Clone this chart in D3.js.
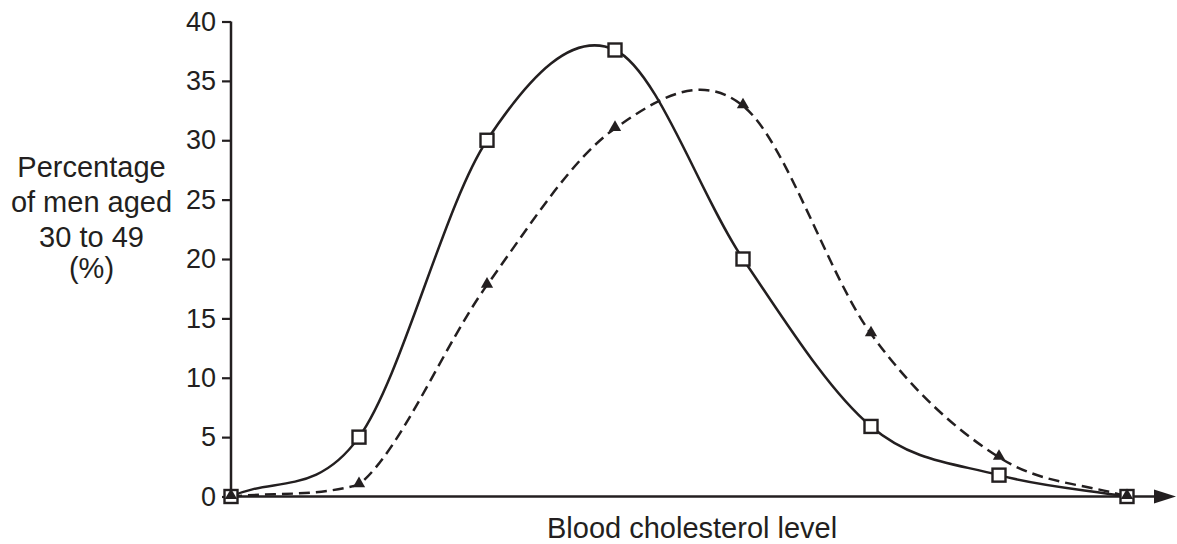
<!DOCTYPE html>
<html>
<head>
<meta charset="utf-8">
<script src="https://cdn.jsdelivr.net/npm/d3@7/dist/d3.min.js"></script>
<style>
  html, body { margin: 0; padding: 0; background: #fff; }
  svg { display: block; }
  text { font-family: "Liberation Sans", Arial, Helvetica, sans-serif; fill: #231f20; }
</style>
</head>
<body>
<svg id="chart" width="1177" height="544"></svg>
<script>
// ---- data ----
const categories = [0, 1, 2, 3, 4, 5, 6, 7];
const squareSeries = [0, 5, 30, 37.6, 20, 5.9, 1.8, 0];
const triangleSeries = [0, 1, 17.8, 31, 32.9, 13.7, 3.3, 0];
const yTicks = [0, 5, 10, 15, 20, 25, 30, 35, 40];
const yLabelLines = ["Percentage", "of men aged", "30 to 49", "(%)"];
const xLabel = "Blood cholesterol level";

const ink = "#231f20";
const svg = d3.select("#chart");

const x = d3.scaleLinear().domain([0, 7]).range([231, 1127]);
const y = d3.scaleLinear().domain([0, 40]).range([496.5, 21.5]);

// Smooth (cardinal-like) curve whose end tangents point at the neighbour
// and whose control points never drop below the baseline.
function SmoothClamped(context) { this._context = context; }
SmoothClamped.prototype = {
  areaStart() { this._line = 0; },
  areaEnd() { this._line = NaN; },
  lineStart() { this._pts = []; },
  point(px, py) { this._pts.push([+px, +py]); },
  lineEnd() {
    const p = this._pts, n = p.length, c = this._context;
    if (!n) return;
    const base = d3.max(p, d => d[1]);
    const cl = v => Math.min(v, base);
    c.moveTo(p[0][0], p[0][1]);
    for (let i = 0; i < n - 1; i++) {
      const a = p[i], b = p[i + 1];
      let c1, c2;
      if (i === 0) c1 = [a[0] + (b[0] - a[0]) / 3, a[1] + (b[1] - a[1]) / 3];
      else c1 = [a[0] + (b[0] - p[i - 1][0]) / 6, a[1] + (b[1] - p[i - 1][1]) / 6];
      if (i + 1 === n - 1) c2 = [b[0] - (b[0] - a[0]) / 3, b[1] - (b[1] - a[1]) / 3];
      else c2 = [b[0] - (p[i + 2][0] - a[0]) / 6, b[1] - (p[i + 2][1] - a[1]) / 6];
      c.bezierCurveTo(c1[0], cl(c1[1]), c2[0], cl(c2[1]), b[0], b[1]);
    }
  }
};
const smoothClamped = ctx => new SmoothClamped(ctx);

// y axis
const yAxis = d3.axisLeft(y).tickValues(yTicks).tickSize(9).tickPadding(6).tickFormat(d3.format("d"));
const gy = svg.append("g").attr("transform", `translate(${x(0)},0)`).call(yAxis);
gy.select(".domain").attr("d", `M0,${y(40)}V${y(0)}`).attr("stroke", ink).attr("stroke-width", 2.5);
gy.selectAll(".tick line").attr("stroke", ink).attr("stroke-width", 2.2);
gy.selectAll(".tick text").attr("font-size", 27).attr("fill", ink)
  .style("font-family", '"Liberation Sans", Arial, sans-serif');

// x axis line with arrow
svg.append("line").attr("x1", x(0)).attr("x2", 1158).attr("y1", y(0)).attr("y2", y(0))
  .attr("stroke", ink).attr("stroke-width", 2.5);
svg.append("path").attr("d", `M1154,${y(0) - 7}L1176,${y(0)}L1154,${y(0) + 7}Z`).attr("fill", ink);

// curves
const line = d3.line().x((d, i) => x(categories[i])).y(d => y(d)).curve(smoothClamped);

svg.append("path").datum(triangleSeries).attr("d", line)
  .attr("fill", "none").attr("stroke", ink).attr("stroke-width", 2.5).attr("stroke-dasharray", "11,6");
svg.append("path").datum(squareSeries).attr("d", line)
  .attr("fill", "none").attr("stroke", ink).attr("stroke-width", 2.5);

// square markers
const s = 13;
svg.selectAll(".sq").data(squareSeries).join("rect")
  .attr("x", (d, i) => x(categories[i]) - s / 2).attr("y", d => y(d) - s / 2)
  .attr("width", s).attr("height", s)
  .attr("fill", "#fff").attr("stroke", ink).attr("stroke-width", 2.4);

// triangle markers
const tri = d3.symbol().type(d3.symbolTriangle).size(65);
svg.selectAll(".tri").data(triangleSeries).join("path")
  .attr("transform", (d, i) => `translate(${x(categories[i])},${y(d) - 1})`)
  .attr("d", tri).attr("fill", ink);

// y label
const yl = svg.append("text").attr("text-anchor", "middle").attr("font-size", 29);
const yBase = [176.5, 211.5, 246.5, 278];
yLabelLines.forEach((t, i) => {
  yl.append("tspan").attr("x", 91.5).attr("y", yBase[i]).text(t);
});

// x label
svg.append("text").attr("x", 547).attr("y", 538).attr("font-size", 29).text(xLabel);
</script>
</body>
</html>
